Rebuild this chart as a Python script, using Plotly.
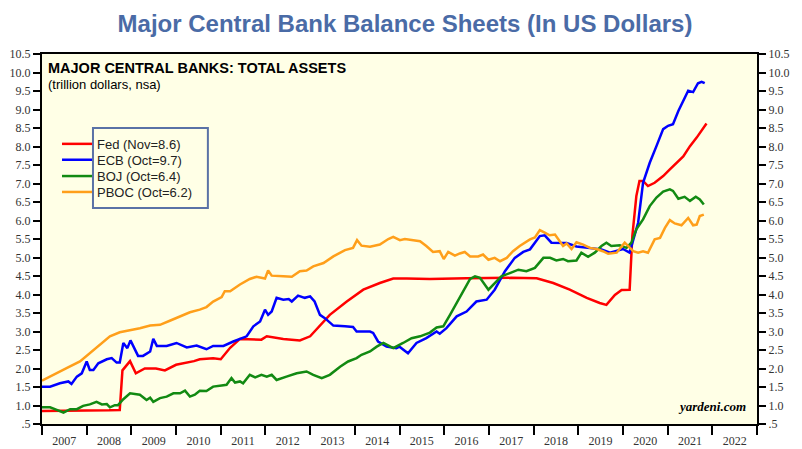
import plotly.graph_objects as go

# values (decimal years, trillion US$)
fed_x = [2007.0, 2007.5, 2008.0, 2008.5, 2008.74, 2008.8, 2008.97, 2009.1, 2009.3, 2009.55, 2009.75,
         2010.0, 2010.4, 2010.53, 2010.83, 2011.0, 2011.21, 2011.43, 2011.91, 2012.03, 2012.4, 2012.77,
         2013.0, 2013.44, 2013.82, 2014.19, 2014.56, 2014.86, 2015.16, 2015.46, 2015.68, 2016.5,
         2017.0, 2017.5, 2018.07, 2018.44, 2018.81, 2019.19, 2019.48, 2019.63, 2019.82, 2019.97,
         2020.15, 2020.21, 2020.3, 2020.37, 2020.45, 2020.56, 2020.71, 2020.9, 2021.05, 2021.2,
         2021.35, 2021.5, 2021.65, 2021.87]
fed = [0.85, 0.85, 0.86, 0.87, 0.88, 1.95, 2.2, 1.87, 2.0, 2.0, 1.95,
       2.1, 2.2, 2.25, 2.28, 2.25, 2.56, 2.8, 2.78, 2.87, 2.8, 2.76,
       2.87, 3.45, 3.81, 4.13, 4.31, 4.43, 4.43, 4.42, 4.42, 4.44,
       4.45, 4.45, 4.44, 4.31, 4.13, 3.91, 3.77, 3.72, 3.99, 4.12,
       4.13, 5.58, 6.66, 7.07, 7.07, 6.93, 7.02, 7.2, 7.38, 7.56,
       7.73, 8.01, 8.24, 8.62]

ecb_x = [2007.0, 2007.18, 2007.4, 2007.59, 2007.66, 2007.78, 2007.89, 2008.0, 2008.07, 2008.15,
         2008.26, 2008.45, 2008.56, 2008.67, 2008.74, 2008.82, 2008.91, 2008.98, 2009.15, 2009.26,
         2009.42, 2009.49, 2009.57, 2009.79, 2010.01, 2010.24, 2010.46, 2010.68, 2010.83, 2011.06,
         2011.28, 2011.43, 2011.58, 2011.73, 2011.88, 2011.99, 2012.06, 2012.14, 2012.25, 2012.4,
         2012.52, 2012.59, 2012.73, 2012.88, 2013.0, 2013.1, 2013.22, 2013.33, 2013.52, 2013.78,
         2013.96, 2014.04, 2014.34, 2014.41, 2014.52, 2014.71, 2014.93, 2015.0, 2015.19, 2015.38,
         2015.6, 2015.83, 2015.9, 2016.05, 2016.28, 2016.5, 2016.72, 2016.95, 2017.13, 2017.36,
         2017.58, 2017.77, 2017.92, 2018.14, 2018.25, 2018.4, 2018.59, 2018.74, 2018.96, 2019.33,
         2019.52, 2019.71, 2019.86, 2020.0, 2020.15, 2020.34, 2020.45, 2020.6, 2020.75, 2020.9,
         2021.01, 2021.12, 2021.24, 2021.35, 2021.46, 2021.57, 2021.68, 2021.76, 2021.83]
ecb = [1.51, 1.51, 1.6, 1.65, 1.58, 1.78, 1.87, 2.19, 1.96, 1.96,
       2.14, 2.25, 2.28, 2.16, 2.16, 2.69, 2.55, 2.76, 2.34, 2.34,
       2.46, 2.8, 2.61, 2.61, 2.69, 2.57, 2.62, 2.52, 2.61, 2.61,
       2.73, 2.8, 2.87, 3.14, 3.27, 3.59, 3.45, 3.54, 3.91, 3.86,
       3.88, 3.81, 3.97, 3.91, 3.95, 3.81, 3.45, 3.36, 3.16, 3.14,
       3.12, 3.0, 3.0, 2.96, 2.73, 2.59, 2.55, 2.59, 2.41, 2.69,
       2.82, 3.0, 2.94, 3.09, 3.41, 3.54, 3.81, 3.86, 4.13, 4.63,
       4.99, 5.15, 5.22, 5.58, 5.6, 5.4, 5.4, 5.39, 5.3, 5.26,
       5.22, 5.13, 5.19, 5.23, 5.13, 5.94, 7.02, 7.56, 8.01, 8.47,
       8.56, 8.6, 8.96, 9.24, 9.51, 9.47, 9.71, 9.75, 9.71]

boj_x = [2007.0, 2007.18, 2007.33, 2007.48, 2007.63, 2007.78, 2007.92, 2008.07, 2008.22, 2008.34,
         2008.45, 2008.52, 2008.63, 2008.7, 2008.82, 2008.97, 2009.19, 2009.34, 2009.42, 2009.49,
         2009.64, 2009.79, 2009.94, 2010.09, 2010.2, 2010.31, 2010.42, 2010.53, 2010.68, 2010.83,
         2011.02, 2011.13, 2011.24, 2011.32, 2011.43, 2011.5, 2011.65, 2011.77, 2011.91, 2012.03,
         2012.14, 2012.25, 2012.47, 2012.7, 2012.92, 2013.07, 2013.26, 2013.44, 2013.67, 2013.85,
         2014.04, 2014.15, 2014.34, 2014.49, 2014.64, 2014.86, 2015.08, 2015.27, 2015.46, 2015.68,
         2015.83, 2015.98, 2016.13, 2016.28, 2016.43, 2016.58, 2016.69, 2016.8, 2016.99, 2017.13,
         2017.28, 2017.47, 2017.66, 2017.84, 2018.03, 2018.22, 2018.37, 2018.51, 2018.66, 2018.77,
         2018.96, 2019.07, 2019.22, 2019.37, 2019.52, 2019.63, 2019.74, 2019.93, 2020.08, 2020.19,
         2020.3, 2020.45, 2020.6, 2020.75, 2020.9, 2021.05, 2021.12, 2021.24, 2021.38, 2021.5,
         2021.63, 2021.72, 2021.81]
boj = [0.95, 0.95, 0.88, 0.81, 0.9, 0.9, 0.99, 1.03, 1.1, 1.03,
       1.04, 0.95, 1.01, 1.01, 1.17, 1.33, 1.29, 1.15, 1.21, 1.1,
       1.2, 1.24, 1.33, 1.33, 1.4, 1.24, 1.29, 1.4, 1.39, 1.51,
       1.54, 1.56, 1.74, 1.62, 1.65, 1.6, 1.83, 1.76, 1.83, 1.78,
       1.83, 1.69, 1.78, 1.87, 1.92, 1.83, 1.74, 1.83, 2.05, 2.19,
       2.28, 2.37, 2.46, 2.59, 2.69, 2.55, 2.69, 2.82, 2.87, 2.97,
       3.11, 3.14, 3.45, 3.77, 4.13, 4.42, 4.49, 4.45, 4.13, 4.31,
       4.49, 4.58, 4.67, 4.63, 4.72, 4.99, 4.99, 4.92, 4.96, 4.9,
       4.92, 5.13, 5.02, 5.13, 5.31, 5.4, 5.31, 5.33, 5.26, 5.4,
       5.76, 6.03, 6.39, 6.62, 6.78, 6.84, 6.8, 6.59, 6.64, 6.53,
       6.64, 6.57, 6.43]

pboc_x = [2007.0, 2007.25, 2007.55, 2007.85, 2008.07, 2008.3, 2008.52, 2008.74, 2008.97, 2009.19,
          2009.42, 2009.64, 2009.86, 2010.09, 2010.31, 2010.53, 2010.68, 2010.83, 2011.02, 2011.09,
          2011.21, 2011.43, 2011.65, 2011.8, 2011.99, 2012.06, 2012.14, 2012.4, 2012.59, 2012.77,
          2012.92, 2013.07, 2013.3, 2013.52, 2013.78, 2013.96, 2014.05, 2014.15, 2014.34, 2014.56,
          2014.75, 2014.86, 2015.01, 2015.12, 2015.27, 2015.46, 2015.6, 2015.75, 2015.9, 2015.99,
          2016.09, 2016.24, 2016.35, 2016.46, 2016.58, 2016.76, 2016.87, 2016.99, 2017.13, 2017.25,
          2017.4, 2017.54, 2017.69, 2017.92, 2018.03, 2018.14, 2018.25, 2018.36, 2018.48, 2018.59,
          2018.66, 2018.74, 2018.85, 2018.96, 2019.11, 2019.26, 2019.41, 2019.55, 2019.67, 2019.86,
          2020.04, 2020.12, 2020.23, 2020.34, 2020.45, 2020.56, 2020.71, 2020.83, 2020.94, 2021.05,
          2021.16, 2021.31, 2021.46, 2021.57, 2021.65, 2021.72, 2021.81]
pboc = [1.67, 1.83, 2.01, 2.19, 2.42, 2.64, 2.87, 2.98, 3.03, 3.09,
        3.16, 3.18, 3.29, 3.41, 3.52, 3.59, 3.66, 3.81, 3.93, 4.09,
        4.09, 4.27, 4.42, 4.48, 4.43, 4.65, 4.51, 4.49, 4.48, 4.63,
        4.65, 4.76, 4.85, 5.03, 5.2, 5.26, 5.47, 5.32, 5.29, 5.35,
        5.5, 5.56, 5.47, 5.5, 5.47, 5.44, 5.31, 5.15, 5.17, 4.96,
        5.15, 5.05, 5.11, 5.15, 5.03, 5.03, 5.08, 4.94, 4.99, 4.9,
        4.99, 5.17, 5.31, 5.49, 5.54, 5.74, 5.67, 5.6, 5.62, 5.44,
        5.31, 5.38, 5.23, 5.41, 5.35, 5.26, 5.23, 5.17, 5.1, 5.13,
        5.4, 5.31, 5.17, 5.13, 5.17, 5.13, 5.49, 5.53, 5.8, 6.01,
        5.92, 5.87, 6.07, 5.87, 5.89, 6.12, 6.16]

names = ["Fed (Nov=8.6)", "ECB (Oct=9.7)", "BOJ (Oct=6.4)", "PBOC (Oct=6.2)"]
colors = ["#ff0000", "#0000ff", "#128a12", "#ff9f1a"]

years = list(range(2007, 2023))
y_ticks = [0.5 + 0.5 * i for i in range(21)]
y_labels = [".5"] + ["%.1f" % v for v in y_ticks[1:]]

# the page has an 8px body margin, so the figure is 8px smaller than the window
W, H = 794, 441
ML, MR, MT, MB = 34, 45, 46, 25

fig = go.Figure()
legend_ids = ["legend", "legend2", "legend3", "legend4"]
for xs, ys, nm, c, lg in zip([fed_x, ecb_x, boj_x, pboc_x], [fed, ecb, boj, pboc],
                             names, colors, legend_ids):
    fig.add_trace(go.Scatter(x=xs, y=ys, mode="lines", name=nm, legend=lg,
                             line=dict(color=c, width=2.5)))
# dummy trace so the right-hand axis gets drawn
fig.add_trace(go.Scatter(x=[2007], y=[0.5], yaxis="y2", mode="markers",
                         marker=dict(opacity=0), showlegend=False, hoverinfo="skip"))

tick_font = dict(family="Liberation Serif", size=12, color="#333333")

# one legend per series so the rows can sit 16px apart like the original
leg_font = dict(family="Arial", size=13, color="#222222")
leg_rows = [0.757, 0.714, 0.670, 0.627]
legends = {}
for lg, yy in zip(legend_ids, leg_rows):
    legends[lg] = dict(x=0.021, y=yy, xanchor="left", yanchor="middle",
                       bgcolor="rgba(0,0,0,0)", borderwidth=0, font=leg_font,
                       itemwidth=30)

fig.update_layout(
    width=W, height=H,
    paper_bgcolor="white",
    plot_bgcolor="#ffffe6",
    margin=dict(l=ML, r=MR, t=MT, b=MB, autoexpand=False),
    title=dict(text="<b>Major Central Bank Balance Sheets (In US Dollars)</b>",
               x=0.5, xanchor="center", y=1 - 16 / H, yanchor="middle",
               font=dict(family="Arial", size=24, color="#4a6ba6")),
    xaxis=dict(range=[2007, 2023], showgrid=False, zeroline=False, automargin=False,
               showline=True, linewidth=2, linecolor="black", mirror=True,
               tickmode="array", tickvals=[y + 0.5 for y in years],
               ticktext=[str(y) for y in years], ticks="outside", ticklen=5,
               tickcolor="rgba(0,0,0,0)", tickfont=tick_font,
               minor=dict(tickmode="array", tickvals=list(range(2007, 2024)),
                          ticks="outside", ticklen=9, tickwidth=2, tickcolor="black")),
    yaxis=dict(range=[0.5, 10.5], showgrid=False, zeroline=False, automargin=False,
               showline=True, linewidth=2, linecolor="black",
               tickmode="array", tickvals=y_ticks, ticktext=y_labels,
               ticks="outside", ticklen=7, tickwidth=1.5, tickcolor="black",
               tickfont=tick_font),
    yaxis2=dict(range=[0.5, 10.5], overlaying="y", side="right", showgrid=False,
                zeroline=False, automargin=False, showline=True, linewidth=2,
                linecolor="black", tickmode="array", tickvals=y_ticks, ticktext=y_labels,
                ticks="outside", ticklen=7, tickwidth=1.5, tickcolor="black",
                tickfont=tick_font),
    showlegend=True,
    **legends,
)

# box around legend text (line samples sit outside it, as in the original)
fig.add_shape(type="rect", xref="paper", yref="paper",
              x0=0.0713, x1=0.232, y0=0.584, y1=0.800,
              line=dict(color="#5a72a6", width=2), fillcolor="rgba(0,0,0,0)")

fig.add_annotation(text="<b>MAJOR CENTRAL BANKS: TOTAL ASSETS</b>", xref="paper", yref="paper",
                   x=0.006, y=0.988, xanchor="left", yanchor="top", showarrow=False,
                   font=dict(family="Arial", size=14.5, color="black"))
fig.add_annotation(text="(trillion dollars, nsa)", xref="paper", yref="paper",
                   x=0.006, y=0.942, xanchor="left", yanchor="top", showarrow=False,
                   font=dict(family="Arial", size=13, color="black"))
fig.add_annotation(text="<b><i>yardeni.com</i></b>", xref="paper", yref="paper",
                   x=0.988, y=0.022, xanchor="right", yanchor="bottom", showarrow=False,
                   font=dict(family="Liberation Serif", size=13, color="black"))

fig.write_html("out.html")
